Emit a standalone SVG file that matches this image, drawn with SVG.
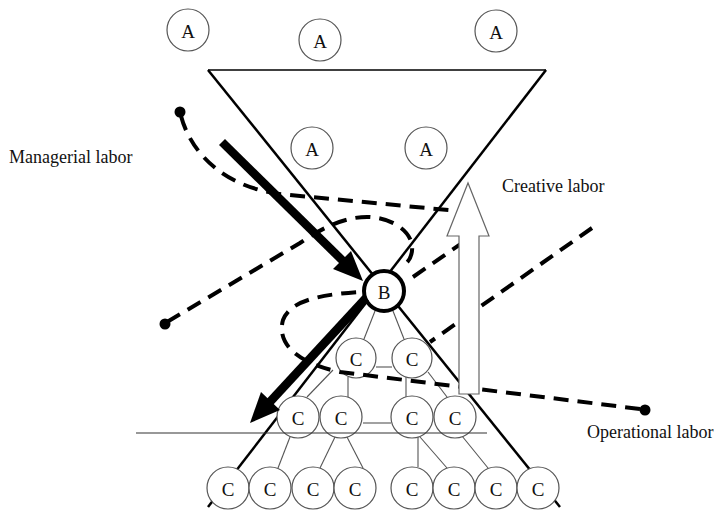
<svg xmlns="http://www.w3.org/2000/svg" width="715" height="510" viewBox="0 0 715 510">
<style>
.node circle{fill:#fff;stroke:#555;stroke-width:1.2}
.lbl{font-family:"Liberation Serif","Times New Roman",serif;font-size:19px;fill:#111;text-anchor:middle;dominant-baseline:central}
.txt{font-family:"Liberation Serif","Times New Roman",serif;font-size:18px;fill:#111}
.hg{stroke:#000;stroke-width:2.5;fill:none}
.tree{stroke:#555;stroke-width:1.1;fill:none}
.dash{stroke:#000;stroke-width:4;fill:none;stroke-dasharray:15 9}
.dot{fill:#000}
.thick{stroke:#000;stroke-width:8.5;fill:none}
.head{fill:#000}
</style>
<rect width="715" height="510" fill="#fff"/>
<g id="hourglass">
<line x1="208" y1="70" x2="546" y2="70" stroke="#000" stroke-width="1.6"/>
<line class="hg" x1="208" y1="70" x2="560" y2="507"/>
<line class="hg" x1="546" y1="70" x2="208" y2="507"/>
</g>
<g id="connectors">
<g class="tree">
<line x1="375" y1="311" x2="364" y2="339"/>
<line x1="393" y1="311" x2="404" y2="339"/>
<line x1="376" y1="367" x2="392" y2="367"/>
<line x1="333" y1="370" x2="307" y2="397"/>
<line x1="348" y1="377" x2="348" y2="397"/>
<line x1="406" y1="377" x2="406" y2="397"/>
<line x1="428" y1="372" x2="447" y2="397"/>
<line x1="363" y1="423" x2="391" y2="423"/>
<line x1="290" y1="437" x2="278" y2="468"/>
<line x1="335" y1="437" x2="320" y2="468"/>
<line x1="347" y1="437" x2="363" y2="468"/>
<line x1="418" y1="437" x2="418" y2="467"/>
<line x1="420" y1="437" x2="447" y2="468"/>
<line x1="462" y1="436" x2="488" y2="468"/>
</g>
</g>
<g id="A1" class="node"><circle cx="188" cy="30" r="21"/><text class="lbl" x="188" y="31">A</text></g>
<g id="A2" class="node"><circle cx="320" cy="40" r="21"/><text class="lbl" x="320" y="41">A</text></g>
<g id="A3" class="node"><circle cx="496" cy="31" r="21"/><text class="lbl" x="496" y="32">A</text></g>
<g id="A4" class="node"><circle cx="312" cy="148" r="21"/><text class="lbl" x="312" y="149">A</text></g>
<g id="A5" class="node"><circle cx="426" cy="148" r="21"/><text class="lbl" x="426" y="149">A</text></g>
<g id="C1" class="node"><circle cx="356" cy="358" r="20"/><text class="lbl" x="356" y="359">C</text></g>
<g id="C2" class="node"><circle cx="412" cy="358" r="20"/><text class="lbl" x="412" y="359">C</text></g>
<g id="C3" class="node"><circle cx="298" cy="417" r="21"/><text class="lbl" x="298" y="418">C</text></g>
<g id="C4" class="node"><circle cx="341" cy="417" r="21"/><text class="lbl" x="341" y="418">C</text></g>
<g id="C5" class="node"><circle cx="412" cy="417" r="21"/><text class="lbl" x="412" y="418">C</text></g>
<g id="C6" class="node"><circle cx="455" cy="417" r="21"/><text class="lbl" x="455" y="418">C</text></g>
<g id="C7" class="node"><circle cx="228" cy="488" r="21"/><text class="lbl" x="228" y="489">C</text></g>
<g id="C8" class="node"><circle cx="270" cy="488" r="21"/><text class="lbl" x="270" y="489">C</text></g>
<g id="C9" class="node"><circle cx="313" cy="488" r="21"/><text class="lbl" x="313" y="489">C</text></g>
<g id="C10" class="node"><circle cx="355" cy="488" r="21"/><text class="lbl" x="355" y="489">C</text></g>
<g id="C11" class="node"><circle cx="412" cy="488" r="21"/><text class="lbl" x="412" y="489">C</text></g>
<g id="C12" class="node"><circle cx="454" cy="488" r="21"/><text class="lbl" x="454" y="489">C</text></g>
<g id="C13" class="node"><circle cx="496" cy="488" r="21"/><text class="lbl" x="496" y="489">C</text></g>
<g id="C14" class="node"><circle cx="538" cy="488" r="21"/><text class="lbl" x="538" y="489">C</text></g>
<g id="baseline">
<line x1="136" y1="433" x2="487" y2="433" stroke="#333" stroke-width="1.2"/>
</g>
<g id="flows">
<path class="dash" d="M181,116 C190,150 222,190 290,195 L458,211"/>
<circle class="dot" cx="180" cy="112" r="5.5"/>
<path class="dash" d="M167,322 L300,243 C322,228 345,216 370,217 C395,219 410,232 412,245 C413,254 410,261 403,266"/>
<circle class="dot" cx="165" cy="324" r="5.5"/>
<path class="dash" d="M413,277 L478,232"/>
<path class="dash" d="M592,228 L430,342"/>
<path class="dash" d="M640,409 L340,372 C300,364 276,345 283,320 C290,302 315,295 358,292"/>
<circle class="dot" cx="645" cy="410" r="5.5"/>
</g>
<g id="B" class="node"><circle cx="384" cy="291" r="20" style="stroke:#000;stroke-width:4"/><text class="lbl" x="384" y="292">B</text></g>
<g id="creative-arrow">
<polygon points="459,394 459,236 447,236 468,183 489,236 479,236 479,394" fill="#fff" stroke="#666" stroke-width="1.2"/>
</g>
<g id="managerial-arrow">
<line class="thick" x1="222" y1="142" x2="344" y2="262"/>
<polygon class="head" points="363,281 333,269 351,251"/>
</g>
<g id="down-arrow">
<line class="thick" x1="366" y1="298" x2="268" y2="404"/>
<polygon class="head" points="250,423 261,392 280,410"/>
</g>
<g id="labels">
<text class="txt" x="9" y="163">Managerial labor</text>
<text class="txt" x="502" y="192">Creative labor</text>
<text class="txt" x="587" y="438">Operational labor</text>
</g>
</svg>
